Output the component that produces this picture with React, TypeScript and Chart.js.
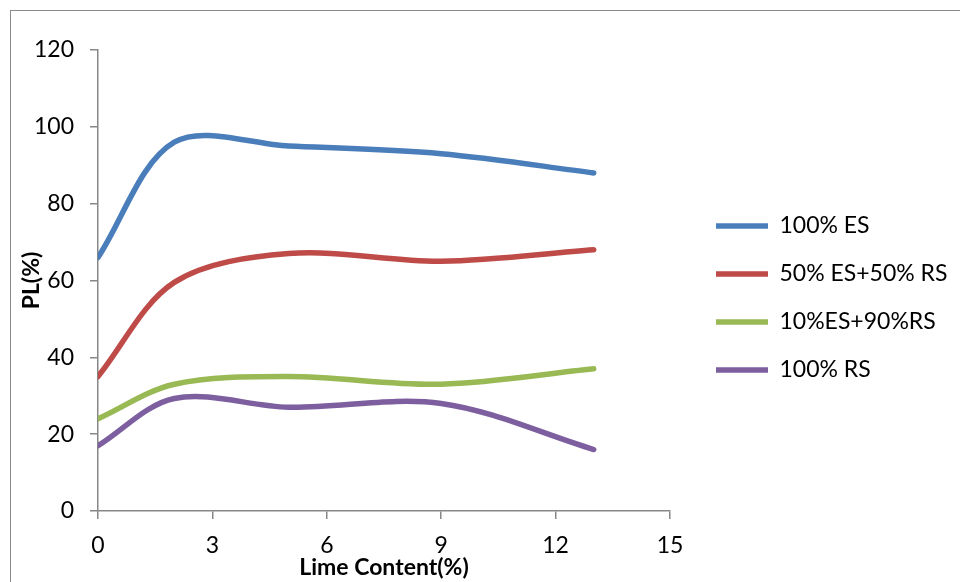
import React, { useEffect, useRef } from "react";
import { Chart, registerables } from "chart.js";

Chart.register(...registerables);

// Lime content (%) at which PL was measured
const limeContent = [0, 2, 5, 9, 13];

// PL (%) for each soil mix
const es100 = [66, 96, 95, 93, 88];
const es50rs50 = [35, 59.5, 67, 65, 68];
const es10rs90 = [24, 33, 35, 33, 37];
const rs100 = [17, 29.3, 27, 28, 16];

const seriesNames = ["100% ES", "50% ES+50% RS", "10%ES+90%RS", "100% RS"];
const seriesColors = ["#4a7ebb", "#be4b48", "#98b954", "#7d5fa0"];

const xTicks = { min: 0, max: 15, step: 3 };
const yTicks = { min: 0, max: 120, step: 20 };

const FONT = "Lato, 'Liberation Sans', sans-serif";
const AXIS_GREY = "#878787";

export default function App() {
  const canvasRef = useRef<HTMLCanvasElement | null>(null);

  useEffect(() => {
    const canvas = canvasRef.current;
    if (!canvas) return;

    const values = [es100, es50rs50, es10rs90, rs100];
    const datasets = values.map((vals, i) => ({
      label: seriesNames[i],
      data: vals.map((v, j) => ({ x: limeContent[j], y: v })),
      borderColor: seriesColors[i],
      backgroundColor: seriesColors[i],
      borderWidth: 5.5,
      borderCapStyle: "round" as const,
      borderJoinStyle: "round" as const,
      pointRadius: 0,
      pointHoverRadius: 0,
      pointStyle: "line" as const,
      tension: 0.33,
      fill: false,
    }));

    const chart = new Chart(canvas, {
      type: "line",
      data: { datasets },
      options: {
        animation: false,
        responsive: false,
        devicePixelRatio: 1,
        layout: { padding: { top: 14, right: 4, bottom: 0, left: 0 } },
        plugins: {
          tooltip: { enabled: false },
          legend: {
            position: "right",
            maxWidth: 265,
            labels: {
              usePointStyle: true,
              pointStyleWidth: 52,
              padding: 25,
              color: "#000",
              font: { family: FONT, size: 23 },
            },
          },
        },
        scales: {
          x: {
            type: "linear",
            position: "bottom",
            min: xTicks.min,
            max: xTicks.max,
            ticks: {
              stepSize: xTicks.step,
              color: "#000",
              padding: 13,
              font: { family: FONT, size: 23 },
            },
            grid: {
              drawOnChartArea: false,
              drawTicks: true,
              tickLength: 8,
              color: AXIS_GREY,
              lineWidth: 1.5,
            },
            border: { display: true, color: AXIS_GREY, width: 1.5 },
            title: {
              display: true,
              text: "Lime Content(%)",
              color: "#000",
              font: { family: FONT, size: 23, weight: "bold" },
              padding: { top: 0, bottom: 1 },
            },
            afterFit: (s: any) => {
              s.height = 71;
            },
          },
          xTop: {
            type: "linear",
            position: "top",
            display: true,
            grid: { display: false },
            border: { display: false },
            ticks: { display: false },
            afterFit: (s: any) => {
              s.height = 36;
            },
          },
          y: {
            type: "linear",
            position: "left",
            min: yTicks.min,
            max: yTicks.max,
            ticks: {
              stepSize: yTicks.step,
              color: "#000",
              padding: 16,
              font: { family: FONT, size: 23 },
            },
            grid: {
              drawOnChartArea: false,
              drawTicks: true,
              tickLength: 8,
              color: AXIS_GREY,
              lineWidth: 1.5,
            },
            border: { display: true, color: AXIS_GREY, width: 1.5 },
            title: {
              display: true,
              text: "PL(%)",
              color: "#000",
              font: { family: FONT, size: 23, weight: "bold" },
              padding: { top: 18, bottom: 0 },
            },
            afterFit: (s: any) => {
              s.width = 98;
            },
          },
          yGap: {
            type: "linear",
            position: "right",
            display: true,
            grid: { display: false },
            border: { display: false },
            ticks: { display: false },
            afterFit: (s: any) => {
              s.width = 21;
            },
          },
        },
      },
    });

    return () => {
      chart.destroy();
    };
  }, []);

  return (
    <div
      style={{
        position: "fixed",
        left: 0,
        top: 0,
        width: 960,
        height: 582,
        background: "#fff",
        overflow: "hidden",
      }}
    >
      <div
        style={{
          position: "absolute",
          left: 10,
          top: 10,
          width: 1000,
          height: 700,
          borderLeft: "1.5px solid #8a8a8a",
          borderTop: "1.5px solid #8a8a8a",
        }}
      />
      <canvas
        ref={canvasRef}
        width={960}
        height={582}
        style={{ position: "absolute", left: 0, top: 0, width: 960, height: 582 }}
      />
    </div>
  );
}
